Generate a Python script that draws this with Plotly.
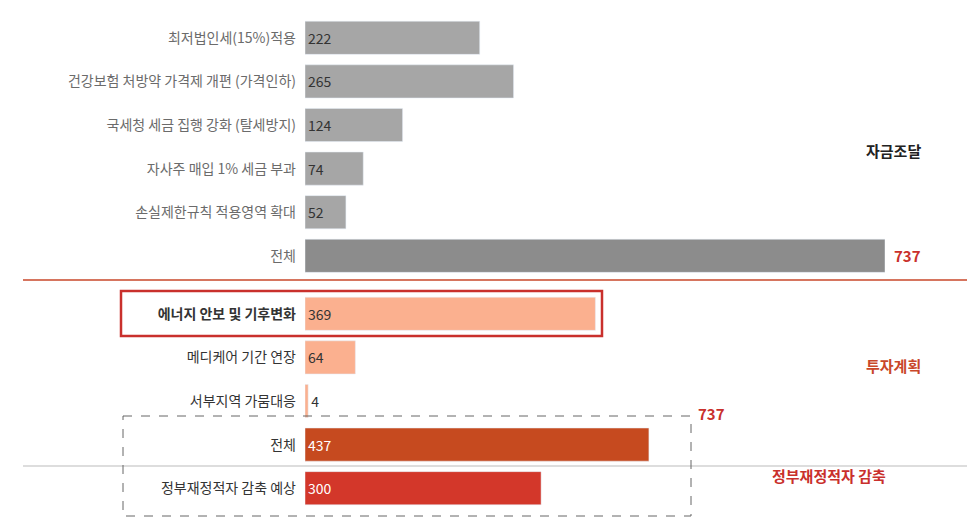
import plotly.graph_objects as go

cats = ["최저법인세(15%)적용","건강보험 처방약 가격제 개편 (가격인하)","국세청 세금 집행 강화 (탈세방지)",
        "자사주 매입 1% 세금 부과","손실제한규칙 적용영역 확대","전체",
        "에너지 안보 및 기후변화","메디케어 기간 연장","서부지역 가뭄대응","전체 ","정부재정적자 감축 예상"]
values = [222,265,124,74,52,737,369,64,4,437,300]
colors = ["#a6a6a6"]*5+["#8c8c8c"]+["#fbb08f"]*3+["#c64a1f","#d3372a"]
ypos = [0,1,2,3,4,5,6.33,7.33,8.33,9.33,10.33]
FONT = "Noto Sans CJK KR"

ticktext = []
for i,c in enumerate(cats):
    col = "#6b6b6b" if i<6 else "#333333"
    t = c.strip()
    if i==6: t = "<b>"+t+"</b>"
    ticktext.append(f"<span style='color:{col}'>{t}</span>")

texts = [str(v) for v in values]
texts[5] = ""
positions = ["inside"]*len(values)
positions[8] = "outside"

fig = go.Figure(go.Bar(
    x=values, y=ypos, orientation="h", width=0.76, marker_color=colors,
    text=texts, textposition=positions, insidetextanchor="start",
    textfont=dict(size=14, family=FONT, color=["#333"]*9+["white","white"]),
    cliponaxis=False, hoverinfo="skip"))

def px(p): return (p-297)/580
def py(p): return 1-(p-8)/494

fig.update_layout(
    width=975, height=528, margin=dict(l=297, r=98, t=8, b=26, autoexpand=False),
    plot_bgcolor="white", paper_bgcolor="white", showlegend=False,
    font=dict(family=FONT, size=14),
    xaxis=dict(range=[0,737], visible=False, automargin=False),
    yaxis=dict(range=[10.83,-0.5], tickvals=ypos, ticktext=ticktext, showgrid=False, automargin=False,
               zeroline=False, ticks="", tickfont=dict(size=14, family=FONT), ticklabelstandoff=8),
    shapes=[
        dict(type="line", xref="paper", yref="paper", x0=px(15), x1=px(960), y0=py(272), y1=py(272), line=dict(color="#c9472a", width=1.5)),
        dict(type="line", xref="paper", yref="paper", x0=px(15), x1=px(960), y0=py(458), y1=py(458), line=dict(color="#bbbbbb", width=1)),
        dict(type="rect", xref="paper", yref="paper", x0=px(113), x1=px(594), y0=py(283), y1=py(328), line=dict(color="#c9302c", width=2.5)),
        dict(type="rect", xref="paper", yref="paper", x0=px(115), x1=px(683), y0=py(408), y1=py(508), line=dict(color="#666666", width=1, dash="dash")),
    ],
    annotations=[
        dict(x=px(915), y=py(130), xref="paper", yref="paper", text="<b>자금조달</b>", showarrow=False, font=dict(size=15, color="#222")),
        dict(x=px(884), y=py(247), xref="paper", yref="paper", text="<b>737</b>", xanchor="left", showarrow=False, font=dict(size=15, color="#c9302c")),
        dict(x=px(915), y=py(370), xref="paper", yref="paper", text="<b>투자계획</b>", showarrow=False, font=dict(size=15, color="#c9472a")),
        dict(x=px(688), y=py(418), xref="paper", yref="paper", text="<b>737</b>", xanchor="left", showarrow=False, font=dict(size=15, color="#c9302c")),
        dict(x=px(880), y=py(480), xref="paper", yref="paper", text="<b>정부재정적자 감축</b>", showarrow=False, font=dict(size=15, color="#c9302c")),
    ])
fig.write_html("out.html")
